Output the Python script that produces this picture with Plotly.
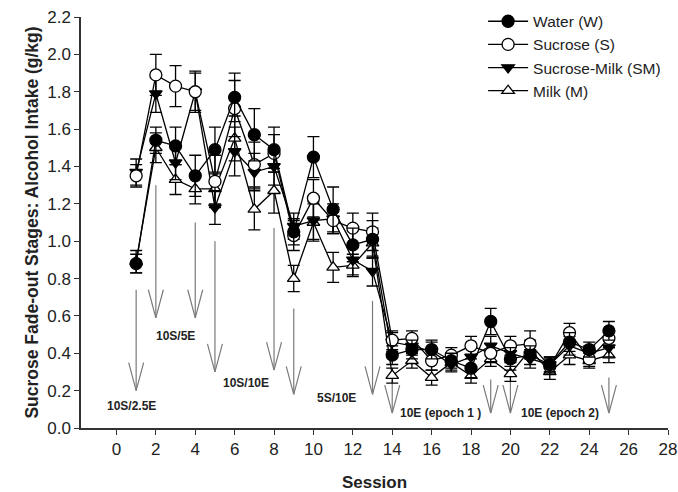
import plotly.graph_objects as go

sessions = list(range(1, 26))
water = [0.88, 1.54, 1.51, 1.35, 1.49, 1.77, 1.57, 1.49, 1.05, 1.45, 1.17, 0.98, 1.01,
         0.39, 0.42, 0.42, 0.36, 0.32, 0.57, 0.37, 0.39, 0.34, 0.46, 0.42, 0.52]
sucrose = [1.35, 1.89, 1.83, 1.80, 1.32, 1.71, 1.41, 1.47, 1.03, 1.23, 1.11, 1.07, 1.05,
           0.47, 0.48, 0.36, 0.39, 0.44, 0.40, 0.44, 0.45, 0.33, 0.51, 0.37, 0.48]
sucrose_milk = [1.37, 1.79, 1.42, 1.80, 1.18, 1.48, 1.37, 1.40, 1.08, 1.11, 1.12, 0.90, 0.84,
                0.46, 0.44, 0.41, 0.34, 0.38, 0.44, 0.40, 0.37, 0.34, 0.44, 0.40, 0.43]
milk = [0.89, 1.50, 1.33, 1.28, 1.28, 1.55, 1.17, 1.27, 0.80, 1.10, 0.86, 0.87, 0.99,
        0.28, 0.36, 0.27, 0.35, 0.28, 0.37, 0.29, 0.42, 0.30, 0.39, 0.36, 0.39]

water_err = [0.05, 0.07, 0.10, 0.11, 0.12, 0.13, 0.14, 0.12, 0.07, 0.11, 0.12, 0.09, 0.10,
             0.05, 0.05, 0.05, 0.04, 0.05, 0.07, 0.06, 0.05, 0.04, 0.05, 0.04, 0.05]
sucrose_err = [0.06, 0.11, 0.11, 0.11, 0.14, 0.15, 0.12, 0.10, 0.08, 0.10, 0.07, 0.08, 0.10,
               0.05, 0.04, 0.05, 0.04, 0.05, 0.05, 0.05, 0.07, 0.04, 0.05, 0.04, 0.05]
sucrose_milk_err = [0.07, 0.10, 0.09, 0.10, 0.09, 0.13, 0.10, 0.10, 0.07, 0.10, 0.08, 0.08, 0.08,
                    0.05, 0.05, 0.05, 0.04, 0.05, 0.05, 0.05, 0.05, 0.04, 0.05, 0.04, 0.05]
milk_err = [0.06, 0.08, 0.08, 0.08, 0.08, 0.12, 0.11, 0.12, 0.07, 0.10, 0.08, 0.06, 0.08,
            0.04, 0.04, 0.04, 0.04, 0.04, 0.04, 0.04, 0.05, 0.04, 0.05, 0.04, 0.04]

# stage arrows: session, shaft top, tip
arrow_x = [1, 2, 4, 5, 8, 9, 13, 14, 19, 20, 25]
arrow_top = [0.74, 1.30, 1.10, 1.00, 1.07, 0.64, 0.68, 0.25, 0.26, 0.25, 0.27]
arrow_tip = [0.20, 0.59, 0.59, 0.30, 0.31, 0.18, 0.18, 0.08, 0.08, 0.08, 0.08]

stage_labels = ["10S/2.5E", "10S/5E", "10S/10E", "5S/10E", "10E (epoch 1 )", "10E (epoch 2)"]
stage_x = [0.75, 3.0, 6.6, 11.15, 16.45, 22.5]
stage_y = [0.12, 0.49, 0.24, 0.16, 0.08, 0.08]

x_ticks = list(range(0, 29, 2))
y_ticks = [round(0.2 * i, 1) for i in range(12)]

fig = go.Figure()

# arrows
ax, ay = [], []
hw, hh = 0.38, 0.15
for x, t, b in zip(arrow_x, arrow_top, arrow_tip):
    ax += [x, x, None, x - hw, x, x + hw, None]
    ay += [t, b, None, b + hh, b, b + hh, None]
fig.add_trace(go.Scatter(x=ax, y=ay, mode="lines", line=dict(color="#7a7a7a", width=1.2),
                         showlegend=False, hoverinfo="skip"))

series = [
    ("Milk (M)", milk, milk_err, "triangle-up", "white", 11, 4),
    ("Sucrose-Milk (SM)", sucrose_milk, sucrose_milk_err, "triangle-down", "black", 11, 3),
    ("Sucrose (S)", sucrose, sucrose_err, "circle", "white", 12, 2),
    ("Water (W)", water, water_err, "circle", "black", 12, 1),
]
for name, vals, errs, sym, fill, size, rank in series:
    fig.add_trace(go.Scatter(
        x=sessions, y=vals, name=name, mode="lines+markers", legendrank=rank,
        line=dict(color="black", width=1.3),
        marker=dict(symbol=sym, size=size, color=fill, line=dict(color="black", width=1.3)),
        error_y=dict(type="data", array=errs, visible=True, color="black", thickness=1.3, width=6),
    ))

for lab, x, y in zip(stage_labels, stage_x, stage_y):
    fig.add_annotation(x=x, y=y, text="<b>" + lab + "</b>", showarrow=False,
                       font=dict(family="Arial, Liberation Sans", size=12, color="#222"))

fig.update_layout(
    width=678, height=492,
    margin=dict(l=81, r=10, t=17, b=64, autoexpand=False),
    paper_bgcolor="white", plot_bgcolor="white",
    font=dict(family="Arial, Liberation Sans", color="#222"),
    showlegend=True,
    legend=dict(x=0.685, y=1.03, xanchor="left", yanchor="top", bgcolor="rgba(0,0,0,0)",
                font=dict(size=15.5, color="#222"), tracegroupgap=0, itemwidth=40),
)
fig.update_xaxes(range=[-1.8, 28], tickvals=x_ticks, ticktext=[str(v) for v in x_ticks],
                 ticks="outside", ticklen=5, tickwidth=1.3, tickcolor="#333", automargin=False,
                 showline=True, linecolor="#333", linewidth=1.5, showgrid=False, zeroline=False,
                 tickfont=dict(size=17, color="#222"),
                 title=dict(text="<b>Session</b>", font=dict(size=17, color="#222"), standoff=24))
fig.update_yaxes(range=[0, 2.2], tickvals=y_ticks, ticktext=["%.1f" % v for v in y_ticks],
                 ticks="outside", ticklen=5, tickwidth=1.3, tickcolor="#333", automargin=False,
                 showline=True, linecolor="#333", linewidth=1.5, showgrid=False, zeroline=False,
                 tickfont=dict(size=17, color="#222"),
                 title=dict(text="<b>Sucrose Fade-out Stages: Alcohol Intake (g/kg)</b>",
                            font=dict(size=17.5, color="#222"), standoff=4))

fig.write_html("out.html", config={"displayModeBar": False},
               post_script="document.body.style.margin='0px';")
